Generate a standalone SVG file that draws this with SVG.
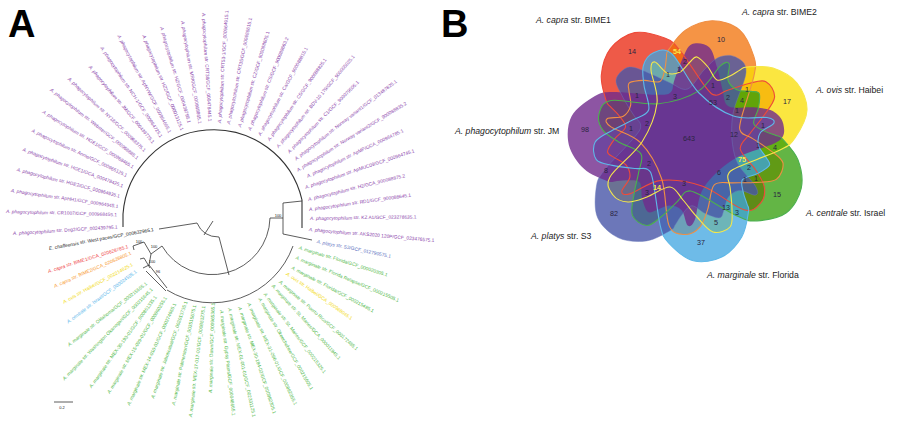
<svg xmlns="http://www.w3.org/2000/svg" xmlns:xlink="http://www.w3.org/1999/xlink" width="900" height="428" viewBox="0 0 900 428">
<style>
text{font-family:"Liberation Sans",Arial,sans-serif}
.i{font-style:italic}
.t text{font-size:4.8px;dominant-baseline:central}
.p{fill:#8b45ab}.g{fill:#4fb848}.r{fill:#ee4040}.o{fill:#f7941d}.y{fill:#f2d90e}.b{fill:#55b4ea}.n{fill:#5a6fc0}.k{fill:#222}
.line{fill:none;stroke:#333;stroke-width:.8}
.fr{fill:#e8230b;fill-opacity:.75}.fo{fill:#f17007;fill-opacity:.75}.fy{fill:#f9dd00;fill-opacity:.75}.fg{fill:#2f9c07;fill-opacity:.75}.fb{fill:#3da4e0;fill-opacity:.75}.fn{fill:#4755a7;fill-opacity:.8}.fp{fill:#702a8c;fill-opacity:.8}
.sr,.so,.sy,.sg,.sb,.sn{fill:none;stroke-width:1.1}
.sr{stroke:#ee4b3a}.so{stroke:#ef8f45}.sy{stroke:#f6e84a}.sg{stroke:#4cb04e}.sb{stroke:#5fb8e8}.sn{stroke:#6a78bd;stroke-opacity:.5;stroke-width:.8}
.num text{font-size:7.2px;text-anchor:middle;dominant-baseline:central;fill:#2a2440}
.num .hi{fill:#f8e84a;font-weight:bold}
.set text{font-size:8.7px;fill:#222}
.boot{font-size:4px;fill:#222;text-anchor:middle}
.cap{font-size:38px;font-weight:bold;fill:#000}
</style>
<defs>
<path id="set" d="M740,70 C737.2,71.5 733.8,74.3 730,76 S720.7,81.5 717,80 S711.3,70.8 708,67 S700,57.8 697,57 S692.8,59.5 690,62 S683.8,70.2 680,72 S671.2,74.7 667,73 S657.7,62.5 655,62 S650.7,63.2 651,70 S658.5,91 657,103 S649.8,129.7 642,142 S614.8,168.2 610,177 S610,190.8 613,195 S622.3,201.7 628,202 S640,199.5 647,197 S664,186.5 670,187 S678.5,195 683,200 S692,211.7 697,217 S707.5,230.3 713,232 S726.8,230.7 730,227 S732,216.7 732,210 S730.7,192.8 730,187 S726.7,178.3 728,175 S729.3,171.2 738,167 S770.5,154.8 780,150 S790.5,144.7 795,138 S806.7,119.2 807,110 S802.7,90 797,83 S781.3,70.7 773,68 S752.5,66.7 747,67 S742.8,68.5 740,70Z"/>
</defs>
<text class="cap" x="8" y="37">A</text>
<text class="cap" x="441" y="37">B</text>
<g id="tree" class="line">
<path stroke-width="1.1" d="M123,227 L123,214 A90.8,90.8 0 0 1 302,200 L302,228"/>
<path d="M159,229 L197,223 Q203,237 219,237 L229,275"/>
<path d="M204,235 L213,221"/>
<path d="M162,246 A58,58 0 0 0 270,218 L283,218"/>
<path d="M302,201 L283,203 L283,234 L312,240"/>
<path d="M293,246 A86,86 0 0 1 167,290"/>
<path d="M134,250 L133,246 L144,242 L151,254 L162,246"/>
<path d="M140,259 L144,258 L150,268 M143,268 L149,265 L167,288 M146,271 L166,291 M151,254 L149,265"/>
<path d="M54,402 H73"/>
</g>
<g id="support-values">
<text class="boot" x="139" y="243">100</text>
<text class="boot" x="154" y="248">100</text>
<text class="boot" x="152" y="263">100</text>
<text class="boot" x="158" y="273">96</text>
<text class="boot" x="278" y="217">100</text>
<text class="boot" x="62" y="409" font-size="4.5">0.2</text>
</g>
<g id="tree-labels" class="t">
<text class="p" transform="translate(13,233) rotate(-3.2)"><tspan class="i">A. phagocytophilum</tspan> str. Dog2/GCF_002439795.1</text>
<text class="p" transform="translate(6,211) rotate(2)"><tspan class="i">A. phagocytophilum</tspan> str. CR1007/GCF_000968455.1</text>
<text class="p" transform="translate(11,190) rotate(8.8)"><tspan class="i">A. phagocytophilum</tspan> str. ApHH1/GCF_000964945.1</text>
<text class="p" transform="translate(17,169) rotate(14.9)"><tspan class="i">A. phagocytophilum</tspan> str. HGE2/GCF_000964935.1</text>
<text class="p" transform="translate(23,149) rotate(20.4)"><tspan class="i">A. phagocytophilum</tspan> str. HGE1/GCA_000478425.1</text>
<text class="p" transform="translate(32,130) rotate(25.8)"><tspan class="i">A. phagocytophilum</tspan> str. Annie/GCF_000965125.1</text>
<text class="p" transform="translate(43,111) rotate(32)"><tspan class="i">A. phagocytophilum</tspan> str. HGE1/GCF_000968465.1</text>
<text class="p" transform="translate(51,89) rotate(38.7)"><tspan class="i">A. phagocytophilum</tspan> str. Webster/GCF_000968885.1</text>
<text class="p" transform="translate(69,78) rotate(43.9)"><tspan class="i">A. phagocytophilum</tspan> str. NY18/GCF_000968375.1</text>
<text class="p" transform="translate(90,66) rotate(50.5)"><tspan class="i">A. phagocytophilum</tspan> str. JM/GCF_000439775.1</text>
<text class="p" transform="translate(102,47) rotate(56.7)"><tspan class="i">A. phagocytophilum</tspan> str. NCH-1/GCF_000964725.1</text>
<text class="p" transform="translate(119,35) rotate(62.5)"><tspan class="i">A. phagocytophilum</tspan> str. ApNYW/GCF_000964665.1</text>
<text class="p" transform="translate(144,35) rotate(68.2)"><tspan class="i">A. phagocytophilum</tspan> str. HZ2/GCF_000013125.1</text>
<text class="p" transform="translate(162,27) rotate(74.2)"><tspan class="i">A. phagocytophilum</tspan> str. HZ/GCF_000439795.1</text>
<text class="p" transform="translate(183,21) rotate(80.7)"><tspan class="i">A. phagocytophilum</tspan> str. MRK/GCF_000968865.1</text>
<text class="p" transform="translate(204,13) rotate(86.9)"><tspan class="i">A. phagocytophilum</tspan> str. CRT38/GCF_000478445.1</text>
<text class="p" transform="translate(219,123) rotate(-86)"><tspan class="i">A. phagocytophilum</tspan> str. CRT53-1/GCF_000964915.1</text>
<text class="p" transform="translate(228,124) rotate(-78)"><tspan class="i">A. phagocytophilum</tspan> str. CRT35/GCF_000688615.1</text>
<text class="p" transform="translate(239,127) rotate(-73)"><tspan class="i">A. phagocytophilum</tspan> str. CZ/GCF_900088605.1</text>
<text class="p" transform="translate(249,130) rotate(-67.5)"><tspan class="i">A. phagocytophilum</tspan> str. CS/GCF_900088663.2</text>
<text class="p" transform="translate(259,135) rotate(-61.4)"><tspan class="i">A. phagocytophilum</tspan> str. Ca/GCF_900088815.1</text>
<text class="p" transform="translate(268,140) rotate(-54.6)"><tspan class="i">A. phagocytophilum</tspan> str. C5/GCF_900088825.1</text>
<text class="p" transform="translate(277,147) rotate(-49.9)"><tspan class="i">A. phagocytophilum</tspan> str. BDV-10 179/GCF_900005025.1</text>
<text class="p" transform="translate(288,152) rotate(-45)"><tspan class="i">A. phagocytophilum</tspan> str. C1/GCF_900079505.1</text>
<text class="p" transform="translate(295,159) rotate(-37.6)"><tspan class="i">A. phagocytophilum</tspan> str. Norway variant1/GCF_013487825.1</text>
<text class="p" transform="translate(297,170) rotate(-31.5)"><tspan class="i">A. phagocytophilum</tspan> str. Norway variant2/GCF_900088835.2</text>
<text class="p" transform="translate(307,176) rotate(-25.3)"><tspan class="i">A. phagocytophilum</tspan> str. ApMP/GCA_000964785.1</text>
<text class="p" transform="translate(305,187) rotate(-18.3)"><tspan class="i">A. phagocytophilum</tspan> str. ApMUC09/GCF_000964745.1</text>
<text class="p" transform="translate(308,199) rotate(-13.5)"><tspan class="i">A. phagocytophilum</tspan> str. H2/GCA_900088875.2</text>
<text class="p" transform="translate(309,209) rotate(-7.7)"><tspan class="i">A. phagocytophilum</tspan> str. RD1/GCF_900088645.1</text>
<text class="p" transform="translate(310,218) rotate(-.5)"><tspan class="i">A. phagocytophilum</tspan> str. KZ A1/GCF_023278635.1</text>
<text class="p" transform="translate(309,229) rotate(5.3)"><tspan class="i">A. phagocytophilum</tspan> str. AKS2020 120P/GCF_023476575.1</text>
<text class="n" transform="translate(317,241) rotate(11.9)"><tspan class="i">A. platys</tspan> str. S3/GCF_012790575.1</text>
<text class="g" transform="translate(299,247) rotate(17.7)"><tspan class="i">A. marginale</tspan> str. Florida/GCF_000020305.1</text>
<text class="g" transform="translate(296,257) rotate(23)"><tspan class="i">A. marginale</tspan> str. Florida Relapse/GCF_000215505.1</text>
<text class="g" transform="translate(292,267) rotate(28.5)"><tspan class="i">A. marginale</tspan> str. Florida/GCF_000215485.1</text>
<text class="y" transform="translate(287,273) rotate(35.3)"><tspan class="i">A. ovis</tspan> str. Haibei/GCA_000968045.1</text>
<text class="g" transform="translate(280,281) rotate(41.6)"><tspan class="i">A. marginale</tspan> str. Puerto Rico/GCF_000172485.1</text>
<text class="g" transform="translate(273,285) rotate(48)"><tspan class="i">A. marginale</tspan> str. St. Maries/GCA_000011945.1</text>
<text class="g" transform="translate(265,293) rotate(53.2)"><tspan class="i">A. marginale</tspan> str. St. Maries/GCF_000215325.1</text>
<text class="g" transform="translate(260,298) rotate(60.5)"><tspan class="i">A. marginale</tspan> str. Okeechobee/GCF_000215605.1</text>
<text class="g" transform="translate(249,303) rotate(65.4)"><tspan class="i">A. marginale</tspan> str. MEX-31-096-01/GCF_000892355.1</text>
<text class="g" transform="translate(240,307) rotate(72)"><tspan class="i">A. marginale</tspan> str. MEX-30-184-02/GCF_000892305.1</text>
<text class="g" transform="translate(230,308) rotate(77.5)"><tspan class="i">A. marginale</tspan> str. MEX-01-001-01/GCF_002331125.1</text>
<text class="g" transform="translate(222,310) rotate(83.7)"><tspan class="i">A. marginale</tspan> str. Gypsy Plains/GCF_000048665.1</text>
<text class="g" transform="translate(210,393) rotate(-87.9)"><tspan class="i">A. marginale</tspan> str. Dawn/GCF_000965365.1</text>
<text class="g" transform="translate(190,417) rotate(-82.9)"><tspan class="i">A. marginale</tspan> str. MEX-17-017-01/GCF_000861275.1</text>
<text class="g" transform="translate(173,405) rotate(-77.7)"><tspan class="i">A. marginale</tspan> str. Palmerston/GCF_003515675.1</text>
<text class="g" transform="translate(152,398) rotate(-70.5)"><tspan class="i">A. marginale</tspan> str. Jaboticabal/GCF_002013735.1</text>
<text class="g" transform="translate(128,405) rotate(-65.2)"><tspan class="i">A. marginale</tspan> str. MEX-14-010-01/GCF_000274665.1</text>
<text class="g" transform="translate(108,393) rotate(-58.9)"><tspan class="i">A. marginale</tspan> str. MEX-15-099-01/GCF_000860255.1</text>
<text class="g" transform="translate(90,387) rotate(-54)"><tspan class="i">A. marginale</tspan> str. MEX-30-193-01/GCF_000861335.1</text>
<text class="g" transform="translate(63,379) rotate(-45.3)"><tspan class="i">A. marginale</tspan> str. Washington Okanogan/GCF_000215645.1</text>
<text class="g" transform="translate(68,345) rotate(-38.2)"><tspan class="i">A. marginale</tspan> str. Oklahoma/GCF_000215665.1</text>
<text class="b" transform="translate(67,322) rotate(-36.2)"><tspan class="i">A. centrale</tspan> str. Israel/GCF_000024505.1</text>
<text class="y" transform="translate(63,302) rotate(-28.4)"><tspan class="i">A. ovis</tspan> str. Haibei/GCF_002214625.1</text>
<text class="o" transform="translate(54,286) rotate(-23.1)"><tspan class="i">A. capra</tspan> str. BIME2/GCA_020628805.1</text>
<text class="r" transform="translate(48,271) rotate(-17)"><tspan class="i">A. capra</tspan> str. BIME1/GCA_020628785.1</text>
<text class="k" transform="translate(49,248) rotate(-10)"><tspan class="i">E. chaffeensis</tspan> str. West paces/GCF_000632965.1</text>
</g>
<g id="venn-fills">
<use id="fill-bime1" href="#set" class="fr" transform="rotate(257.14 690 140)"/>
<use id="fill-bime2" href="#set" class="fo" transform="rotate(308.57 690 140)"/>
<use id="fill-haibei" href="#set" class="fy"/>
<use id="fill-israel" href="#set" class="fg" transform="rotate(51.43 690 140)"/>
<use id="fill-florida" href="#set" class="fb" transform="rotate(102.86 690 140)"/>
<use id="fill-s3" href="#set" class="fn" transform="rotate(154.29 690 140)"/>
<use id="fill-jm" href="#set" class="fp" transform="rotate(205.71 690 140)"/>
</g>
<g id="venn-outlines">
<use href="#set" class="sn" transform="rotate(154.29 690 140)"/>
<use href="#set" class="sr" transform="rotate(257.14 690 140)"/>
<use href="#set" class="so" transform="rotate(308.57 690 140)"/>
<use href="#set" class="sg" transform="rotate(51.43 690 140)"/>
<use href="#set" class="sb" transform="rotate(102.86 690 140)"/>
<use href="#set" class="sy"/>
</g>
<g id="venn-counts" class="num">
<text x="632" y="51">14</text><text class="hi" x="677" y="51">54</text><text x="721" y="39">10</text>
<text x="685" y="61">2</text><text x="679" y="69">1</text><text x="668" y="74">1</text><text x="713" y="85">1</text>
<text x="675" y="96">3</text><text x="713" y="102">53</text><text x="728" y="97">2</text><text x="637" y="95">1</text>
<text x="585" y="129">98</text><text x="647" y="123">2</text><text x="631" y="128">1</text><text x="689" y="138">643</text>
<text x="734" y="134">12</text><text x="606" y="170">8</text><text x="649" y="163">2</text><text x="719" y="172">6</text>
<text class="hi" x="657" y="187">14</text><text x="647" y="192">3</text><text x="684" y="183">3</text><text x="614" y="213">82</text>
<text x="726" y="207">13</text><text x="737" y="212">3</text><text x="716" y="222">5</text><text x="701" y="242">37</text>
<text x="787" y="101">17</text><text x="747" y="89">1</text><text x="742" y="100">4</text><text x="737" y="110">1</text>
<text x="763" y="125">1</text><text x="758" y="145">1</text><text x="775" y="147">4</text><text class="hi" x="742" y="159">75</text>
<text x="749" y="167">2</text><text x="745" y="179">1</text><text x="756" y="178">1</text><text x="777" y="194">15</text>
</g>
<g id="venn-labels" class="set">
<text x="536" y="23"><tspan class="i">A. capra</tspan> str. BIME1</text>
<text x="742" y="15"><tspan class="i">A. capra</tspan> str. BIME2</text>
<text x="816" y="93"><tspan class="i">A. ovis</tspan> str. Haibei</text>
<text x="455" y="134"><tspan class="i">A. phagocytophilum</tspan> str. JM</text>
<text x="531" y="239"><tspan class="i">A. platys</tspan> str. S3</text>
<text x="707" y="278"><tspan class="i">A. marginale</tspan> str. Florida</text>
<text x="806" y="216"><tspan class="i">A. centrale</tspan> str. Israel</text>
</g>
</svg>
